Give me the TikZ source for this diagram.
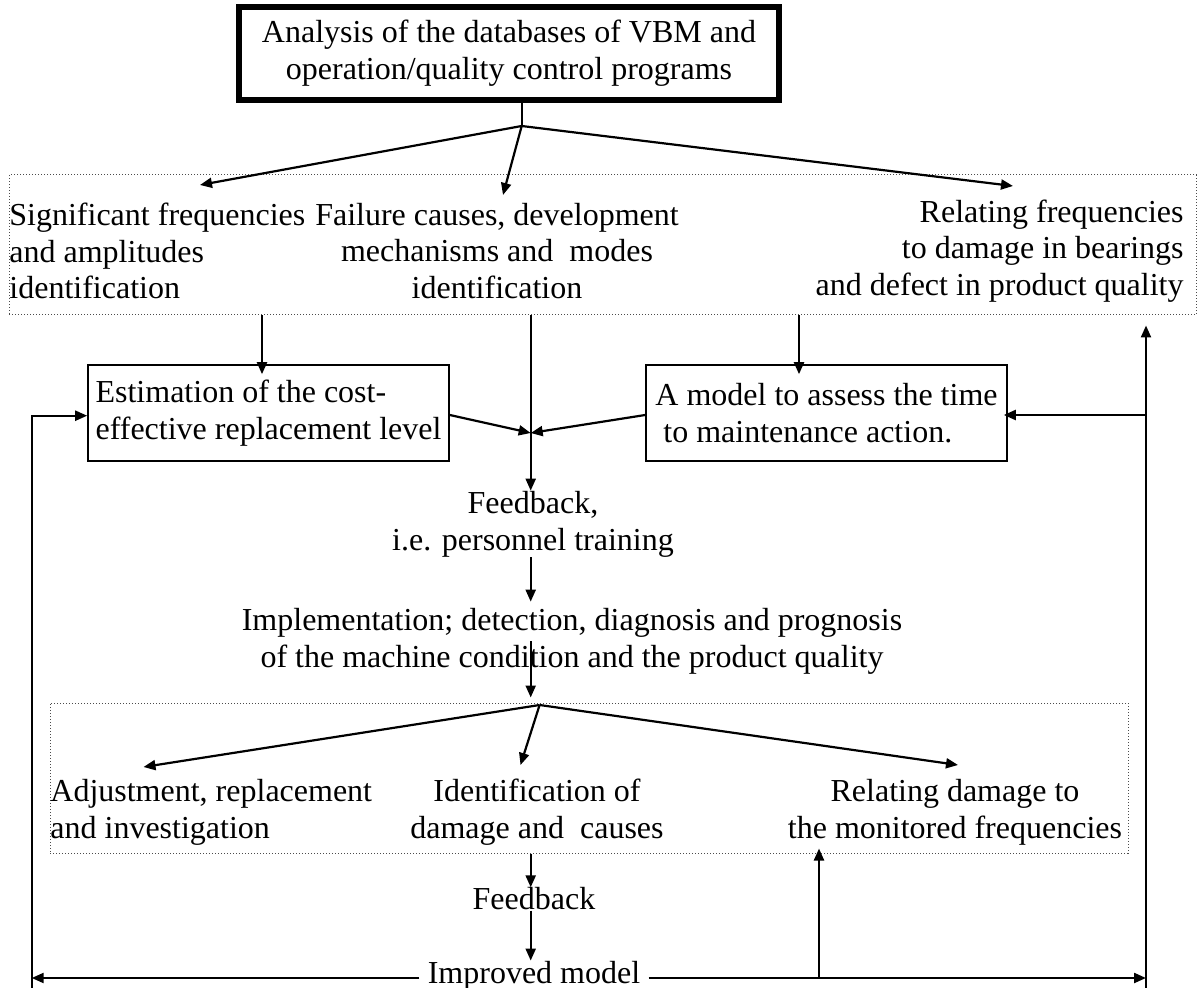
\documentclass[tikz,border=0pt]{standalone}
\usepackage{fontspec}
\setmainfont{Liberation Serif}
\usetikzlibrary{arrows.meta}

\tikzset{
  every node/.style={font=\fontsize{16}{18.4}\selectfont, inner sep=0pt},
  main box/.style={draw, line width=2.6pt, minimum width=270pt, minimum height=46.5pt, align=center},
  plain box/.style={draw, line width=0.8pt, minimum width=180.5pt, minimum height=48pt, align=left},
  group box/.style={draw=black!70, densely dotted, line width=0.5pt},
  link/.style={line width=1.1pt},
  flow/.style={line width=1.1pt, -{Triangle[length=6pt,width=5pt]}},
}

\begin{document}
\begin{tikzpicture}[x=0.5pt, y=-0.5pt]
  \useasboundingbox (0,0) rectangle (1199,988);

  % ---- analysis box and first fan ----
  \node[main box] (analysis) at (509,53.5)
    {Analysis of the databases of VBM and\\operation/quality control programs};
  \coordinate (forkA) at (521.7,126);
  \coordinate (tipFreq) at (200,185);
  \coordinate (tipCause) at (503,195);
  \coordinate (tipBear) at (1013,186);

  \node[group box, minimum width=593.5pt, minimum height=70pt] (groupA) at (602.5,245) {};
  \node[anchor=west, align=left] (freq) at (9,251)
    {Significant frequencies\\and amplitudes\\identification};
  \node[align=center] (causes) at (497,251)
    {Failure causes, development\\mechanisms and~~modes\\identification};
  \node[anchor=east, align=right] (bearing) at (1184,251)
    {Relating frequencies\\to damage in bearings\\and defect in product quality};

  \draw[link] (analysis.south -| forkA) -- (forkA);
  \draw[flow] (forkA) -- (tipFreq);
  \draw[flow] (forkA) -- (tipCause);
  \draw[flow] (forkA) -- (tipBear);

  % ---- the two models ----
  \node[plain box] (cost) at (268.5,413)
    {Estimation of the cost-\\effective replacement level};
  \node[plain box] (timing) at (826.5,413)
    {A model to assess the time\\\ to maintenance action.};
  \coordinate (mergeA) at (530.7,433);

  \draw[flow, shorten >=-5pt] (groupA.south -| 262,0) -- (cost.north -| 262,0);
  \draw[flow, shorten >=-5pt] (groupA.south -| 799,0) -- (timing.north -| 799,0);
  \draw[flow] (cost.east |- 0,415) -- (mergeA);
  \draw[flow] (timing.west |- 0,415) -- (mergeA);

  % ---- feedback and implementation ----
  \node[align=center] (train) at (533,524) {Feedback,\\i.e. personnel training};
  \node[align=center] (impl) at (572,641)
    {Implementation; detection, diagnosis and prognosis\\of the machine condition and the product quality};

  \draw[flow] (groupA.south -| mergeA) -- (train.north -| mergeA);
  \draw[flow, shorten >=3pt] (train.south -| mergeA) -- (impl.north -| mergeA);

  % ---- second fan ----
  \node[group box, minimum width=539pt, minimum height=75pt] (groupB) at (589,778) {};
  \coordinate (forkB) at (539.6,705);
  \coordinate (tipAdj) at (143.5,767);
  \coordinate (tipIdent) at (520.5,765);
  \coordinate (tipMon) at (958,765);
  \node[anchor=west, align=left] (adjust) at (50,812.5)
    {Adjustment, replacement\\and investigation};
  \node[align=center] (ident) at (537,812.5) {Identification of\\damage and~~causes};
  \node[align=center] (monitor) at (955,812.5)
    {Relating damage to\\the monitored frequencies};

  \draw[flow, shorten >=2.5pt] (impl.center -| mergeA) -- (groupB.north -| mergeA);
  \draw[flow] (forkB) -- (tipAdj);
  \draw[flow] (forkB) -- (tipIdent);
  \draw[flow] (forkB) -- (tipMon);

  % ---- feedback loop ----
  \node (fback) at (534,899) {Feedback};
  \node[inner xsep=4pt] (improved) at (534,975.5) {Improved model};
  \coordinate (loopL) at (31.7,978);
  \coordinate (cornerL) at (31.7,415.7);
  \coordinate (loopR) at (1146,978);

  \draw[flow] (groupB.south -| mergeA) -- (fback.north -| mergeA);
  \draw[flow] (fback.south -| mergeA) -- (improved.north -| mergeA);
  \draw[flow] (improved.west |- loopL) -- (loopL);
  \draw[flow] (improved.east |- loopR) -- (loopR);
  \draw[flow] (loopL |- 0,988) -- (cornerL) -- (cost.west |- cornerL);
  \draw[flow, shorten >=5pt] (loopR |- 0,988) -- (groupA.south -| loopR);
  \draw[flow, shorten >=-2pt] (loopR |- 0,415) -- (timing.east |- 0,415);
  \draw[flow, shorten >=-2.5pt] (819,0 |- loopR) -- (groupB.south -| 819,0);
\end{tikzpicture}
\end{document}
